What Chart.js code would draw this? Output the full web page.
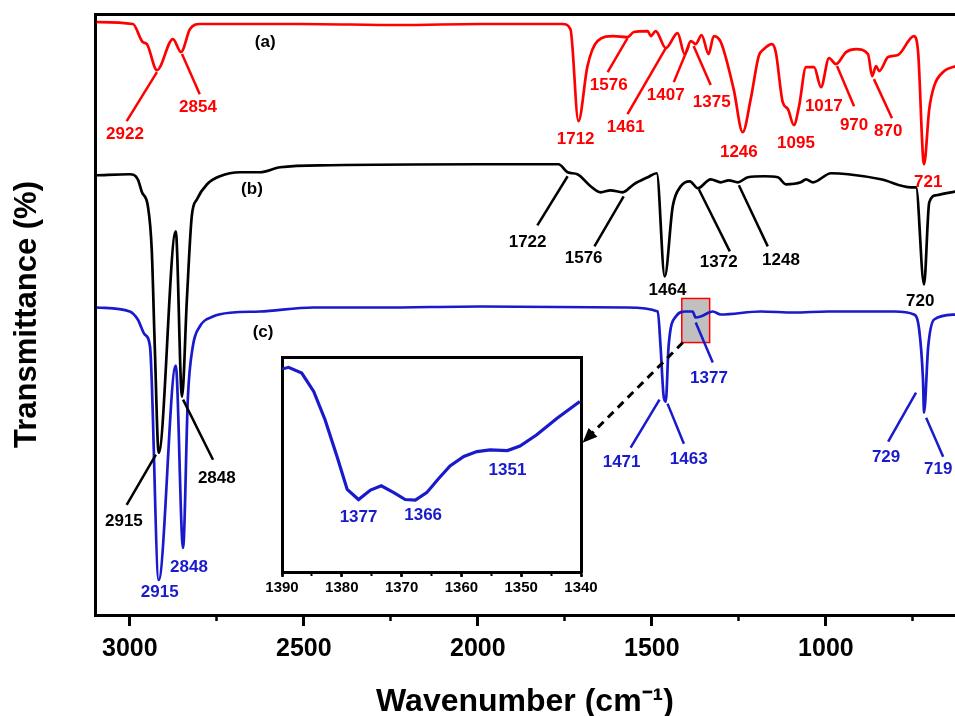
<!DOCTYPE html>
<html>
<head>
<meta charset="utf-8">
<script src="https://cdn.jsdelivr.net/npm/chart.js@4.4.0/dist/chart.umd.min.js"></script>
<style>
  body { margin: 0; background: #fff; }
  #wrap { position: relative; width: 955px; height: 716px; overflow: hidden; }
  #inset { position: absolute; left: 262px; top: 340px; }
</style>
</head>
<body>
<div id="wrap">
  <canvas id="ftir" width="955" height="716"></canvas>
  <canvas id="inset" width="340" height="270"></canvas>
</div>
<script>
// spectra (wavenumber in cm-1, transmittance offset per curve)
const waveA = [3095,2991,2963,2951,2922,2876,2853,2827,2799,2511,2223,1993,1757,1734,1711,1685,1656,1610,1570,1552,1512,1503,1489,1460,1426,1406,1388,1374,1357,1337,1322,1302,1265,1239,1216,1193,1178,1155,1144,1124,1109,1092,1077,1057,1034,1014,991,971,942,913,879,867,856,847,821,793,747,735,718,703,689,660,626];
const transA = [118.4,118,114.4,114,108.8,115,112.4,117,118,118,117.8,118,118,117,98.6,109.6,114.6,115.6,115.4,116.4,116.6,115.6,116.6,113.2,116.2,112,114.6,114,115.8,112,115.6,114.4,105,96.4,103,111.6,113,114,112.4,102.4,101,97.8,101.6,109.4,109.4,105.4,111.2,110,112.4,113,112,107.6,109.6,108.6,111.4,111.8,115.6,112.4,90,101,105.6,108.6,109.6];

const waveB = [3095,3000,2977,2965,2948,2937,2928,2917,2868,2850,2836,2822,2807,2778,2741,2683,2626,2568,2424,1993,1768,1742,1714,1676,1647,1619,1584,1552,1512,1486,1463,1440,1417,1391,1368,1331,1302,1279,1253,1224,1178,1138,1115,1072,1057,1037,985,936,842,755,741,718,703,683,626];
const transB = [87.8,88,87,84.4,81.6,73,53,32.4,76.6,43.6,63,79.6,83,86,87.6,88.4,88.4,89.4,89.8,90,90,88.4,88,85.6,84.4,84.8,84.4,86,87.4,88.2,67.6,81.6,85.6,86.6,85.2,87,86.4,86.8,86.4,87.4,87.6,87.4,86,86.4,87,86.4,88.2,88,87,85.4,85.4,66,82.4,83.8,84.6];

const waveC = [3095,3000,2977,2957,2942,2917,2868,2847,2833,2819,2799,2761,2704,2626,2473,2281,1993,1570,1483,1475,1466,1460,1452,1431,1403,1383,1374,1360,1325,1302,1187,1092,994,804,747,732,721,718,706,689,626];
const transC = [61.4,60.6,59,56,53.6,7,49.8,13.4,43.6,53.6,57.6,59.6,60.4,60.6,61.4,61.4,61.6,61.4,60.6,53.6,43.6,42.6,53.6,59.6,60.6,60.6,59.4,59.6,60.6,60,60.6,60.4,60.6,60.6,60,57,47,40.4,53.6,59,60];

// zoomed region of (c)
const insetWave = [1390,1388.9,1386.7,1384.7,1382.8,1380.8,1379.1,1377.2,1375.2,1373.4,1371.3,1369.4,1367.7,1365.8,1363.8,1361.9,1359.6,1357.4,1355.2,1352.3,1350.2,1347.4,1344,1340.2];
const insetTrans = [94.4,95.2,92.5,84,70.8,53.7,38.4,33.7,38.1,40.1,36.9,33.7,33.4,36.9,43.5,49.3,53.7,56,56.8,56.5,58.6,63.8,71.5,79.3];

const tickLabels = [3000, 2500, 2000, 1500, 1000];
const minorTicks = [3000, 2750, 2500, 2250, 2000, 1750, 1500, 1250, 1000, 750];
const insetTickLabels = [1390, 1380, 1370, 1360, 1350, 1340];

const red = '#ff0000';
const blue = '#1a1acd';
const black = '#000000';
const FONT = '"Liberation Sans", Arial, sans-serif';
Chart.defaults.font.family = FONT;
Chart.defaults.color = '#000';

// peak labels: text, colour, label position and leader line, all in data units
const peakNotes = [
  { text: '2922', color: red, at: [3014, 96], line: [2922, 108.4, 3009, 98.6] },
  { text: '2854', color: red, at: [2804, 101.4], line: [2850, 112, 2799, 104] },
  { text: '1712', color: red, at: [1719, 95] },
  { text: '1576', color: red, at: [1624, 105.8], line: [1570, 115.2, 1627, 108.4] },
  { text: '1461', color: red, at: [1575, 97.4], line: [1460, 113.2, 1570, 100] },
  { text: '1407', color: red, at: [1460, 103.8], line: [1394, 113.6, 1437, 106.4] },
  { text: '1375', color: red, at: [1328, 102.4], line: [1380, 113.6, 1331, 105.8] },
  { text: '1246', color: red, at: [1250, 92.4] },
  { text: '1095', color: red, at: [1086, 94.2] },
  { text: '1017', color: red, at: [1006, 101.6] },
  { text: '970', color: red, at: [919, 97.8], line: [968, 109.6, 919, 101.6] },
  { text: '870', color: red, at: [821, 96.6], line: [862, 107, 810, 99.2] },
  { text: '721', color: red, at: [706, 86.4] },
  { text: '1722', color: black, at: [1857, 74.4], line: [1742, 87.6, 1829, 77.8] },
  { text: '1576', color: black, at: [1696, 71.2], line: [1581, 83.6, 1665, 73.6] },
  { text: '1464', color: black, at: [1455, 64.8] },
  { text: '1372', color: black, at: [1308, 70.4], line: [1365, 85, 1276, 72.6] },
  { text: '1248', color: black, at: [1129, 70.8], line: [1250, 85.8, 1167, 73.6] },
  { text: '720', color: black, at: [729, 62.6] },
  { text: '2915', color: black, at: [3017, 18.8], line: [2925, 32, 3009, 22] },
  { text: '2848', color: black, at: [2750, 27.2], line: [2847, 43, 2761, 31] },
  { text: '2915', color: blue, at: [2914, 4.6] },
  { text: '2848', color: blue, at: [2830, 9.6] },
  { text: '1471', color: blue, at: [1587, 30.4], line: [1478, 43, 1561, 33.4] },
  { text: '1463', color: blue, at: [1394, 31], line: [1455, 42.2, 1408, 34.2] },
  { text: '1377', color: blue, at: [1336, 47.2], line: [1374, 58.4, 1325, 50.4] },
  { text: '729', color: blue, at: [827, 31.4], line: [741, 44.4, 821, 34.6] },
  { text: '719', color: blue, at: [677, 29], line: [712, 39.4, 663, 31.6] },
  { text: '(a)', color: black, at: [2611, 114.4] },
  { text: '(b)', color: black, at: [2649, 85] },
  { text: '(c)', color: black, at: [2617, 56.4] }
];
const zoomBox = [1414, 63.2, 1334, 54.4];
const zoomArrow = [1411, 54.4, 1699, 34.4];

const insetNotes = [
  { text: '1377', at: [1377.2, 25.5] },
  { text: '1366', at: [1366.4, 26.4] },
  { text: '1351', at: [1352.3, 47.4] }
];

function toPoints(xs, ys) {
  return xs.map((v, i) => ({ x: v, y: ys[i] }));
}

function drawNotes(chart, notes, size) {
  const { ctx, scales: { x, y } } = chart;
  ctx.save();
  ctx.font = 'bold ' + size + 'px ' + FONT;
  ctx.textAlign = 'center';
  ctx.textBaseline = 'middle';
  notes.forEach(n => {
    const c = n.color || blue;
    if (n.line) {
      ctx.strokeStyle = c;
      ctx.lineWidth = 2.5;
      ctx.beginPath();
      ctx.moveTo(x.getPixelForValue(n.line[0]), y.getPixelForValue(n.line[1]));
      ctx.lineTo(x.getPixelForValue(n.line[2]), y.getPixelForValue(n.line[3]));
      ctx.stroke();
    }
    ctx.fillStyle = c;
    ctx.fillText(n.text, x.getPixelForValue(n.at[0]), y.getPixelForValue(n.at[1]));
  });
  ctx.restore();
}

const notesPlugin = {
  id: 'notes',
  beforeDatasetsDraw(chart) {
    const { ctx, scales: { x, y } } = chart;
    const x1 = x.getPixelForValue(zoomBox[0]), y1 = y.getPixelForValue(zoomBox[1]);
    const x2 = x.getPixelForValue(zoomBox[2]), y2 = y.getPixelForValue(zoomBox[3]);
    ctx.save();
    ctx.fillStyle = '#c0c0c0';
    ctx.fillRect(x1, y1, x2 - x1, y2 - y1);
    ctx.strokeStyle = red;
    ctx.lineWidth = 1.5;
    ctx.strokeRect(x1, y1, x2 - x1, y2 - y1);
    ctx.restore();
  },
  afterDatasetsDraw(chart) {
    drawNotes(chart, peakNotes, 17);
    // dashed arrow to the inset
    const { ctx, scales: { x, y } } = chart;
    const ax = x.getPixelForValue(zoomArrow[0]), ay = y.getPixelForValue(zoomArrow[1]);
    const bx = x.getPixelForValue(zoomArrow[2]), by = y.getPixelForValue(zoomArrow[3]);
    const ang = Math.atan2(by - ay, bx - ax);
    ctx.save();
    ctx.strokeStyle = black;
    ctx.lineWidth = 3;
    ctx.setLineDash([8, 6]);
    ctx.beginPath();
    ctx.moveTo(ax, ay);
    ctx.lineTo(bx - 10 * Math.cos(ang), by - 10 * Math.sin(ang));
    ctx.stroke();
    ctx.setLineDash([]);
    ctx.fillStyle = black;
    ctx.beginPath();
    ctx.moveTo(bx, by);
    ctx.lineTo(bx - 16 * Math.cos(ang - 0.4), by - 16 * Math.sin(ang - 0.4));
    ctx.lineTo(bx - 16 * Math.cos(ang + 0.4), by - 16 * Math.sin(ang + 0.4));
    ctx.closePath();
    ctx.fill();
    ctx.restore();
  }
};

const curve = (data, color) => ({
  data: data,
  borderColor: color,
  borderWidth: 2.7,
  pointRadius: 0,
  cubicInterpolationMode: 'monotone',
  fill: false
});

const mainChart = new Chart(document.getElementById('ftir'), {
  type: 'line',
  data: {
    datasets: [
      curve(toPoints(waveA, transA), red),
      curve(toPoints(waveB, transB), black),
      curve(toPoints(waveC, transC), blue)
    ]
  },
  options: {
    responsive: false,
    animation: false,
    plugins: { legend: { display: false }, tooltip: { enabled: false } },
    layout: { padding: 0 },
    scales: {
      x: {
        type: 'linear', position: 'bottom', reverse: true, min: 629, max: 3100, weight: 1,
        afterBuildTicks: s => { s.ticks = tickLabels.map(v => ({ value: v })); },
        afterFit: s => { s.height = 101; s.paddingLeft = 0; s.paddingRight = 0; },
        grid: { drawOnChartArea: false, tickLength: 11, tickWidth: 3, tickColor: black },
        border: { display: true, width: 3, color: black },
        ticks: {
          autoSkip: false, maxRotation: 0, padding: 8,
          font: { size: 25, weight: 'bold' },
          callback: v => String(v)
        },
        title: {
          display: true, text: 'Wavenumber (cm\u207B\u00B9)',
          font: { size: 32, weight: 'bold', lineHeight: 0.8 }, padding: { top: 0, bottom: 1 }
        }
      },
      xMinor: {
        type: 'linear', position: 'bottom', reverse: true, min: 629, max: 3100, weight: 0,
        afterBuildTicks: s => { s.ticks = minorTicks.map(v => ({ value: v })); },
        afterFit: s => { s.height = 0; s.paddingLeft = 0; s.paddingRight = 0; },
        grid: { drawOnChartArea: false, tickLength: 6, tickWidth: 2.5, tickColor: black },
        border: { display: false },
        ticks: { display: false }
      },
      xTop: {
        type: 'linear', position: 'top',
        afterFit: s => { s.height = 14; },
        grid: { display: false },
        border: { display: true, width: 3, color: black },
        ticks: { display: false }
      },
      y: {
        min: 0, max: 120,
        afterFit: s => { s.width = 95; },
        grid: { display: false },
        border: { display: true, width: 3, color: black },
        ticks: { display: false },
        title: {
          display: true, text: 'Transmittance (%)',
          font: { size: 31, weight: 'bold' }, padding: { top: 9, bottom: 0 }
        }
      }
    }
  },
  plugins: [notesPlugin]
});

const insetPlugin = {
  id: 'insetNotes',
  afterDatasetsDraw(chart) {
    drawNotes(chart, insetNotes, 17);
  }
};

const insetChart = new Chart(document.getElementById('inset'), {
  type: 'line',
  data: {
    datasets: [{
      data: toPoints(insetWave, insetTrans),
      borderColor: blue,
      borderWidth: 3.2,
      pointRadius: 0,
      tension: 0,
      fill: false
    }]
  },
  options: {
    responsive: false,
    animation: false,
    plugins: { legend: { display: false }, tooltip: { enabled: false } },
    layout: { padding: 0 },
    scales: {
      x: {
        type: 'linear', position: 'bottom', reverse: true, min: 1340, max: 1390, weight: 1,
        afterFit: s => { s.height = 38; },
        grid: { drawOnChartArea: false, tickLength: 5, tickWidth: 2.5, tickColor: black },
        border: { display: true, width: 3, color: black },
        ticks: {
          stepSize: 10, autoSkip: false, maxRotation: 0, padding: 2,
          font: { size: 15, weight: 'bold' },
          callback: v => insetTickLabels.includes(v) ? String(v) : ''
        }
      },
      xMinor: {
        type: 'linear', position: 'bottom', reverse: true, min: 1340, max: 1390, weight: 0,
        afterFit: s => { s.height = 0; },
        grid: { drawOnChartArea: false, tickLength: 4, tickWidth: 2, tickColor: black },
        border: { display: false },
        ticks: { stepSize: 5, display: false }
      },
      xTop: {
        type: 'linear', position: 'top',
        afterFit: s => { s.height = 17; },
        grid: { display: false },
        border: { display: true, width: 3, color: black },
        ticks: { display: false }
      },
      y: {
        min: 0, max: 100,
        afterFit: s => { s.width = 20; },
        grid: { display: false },
        border: { display: true, width: 3, color: black },
        ticks: { display: false }
      },
      yRight: {
        position: 'right',
        afterFit: s => { s.width = 21; },
        grid: { display: false },
        border: { display: true, width: 3, color: black },
        ticks: { display: false }
      }
    }
  },
  plugins: [insetPlugin]
});
</script>
</body>
</html>
